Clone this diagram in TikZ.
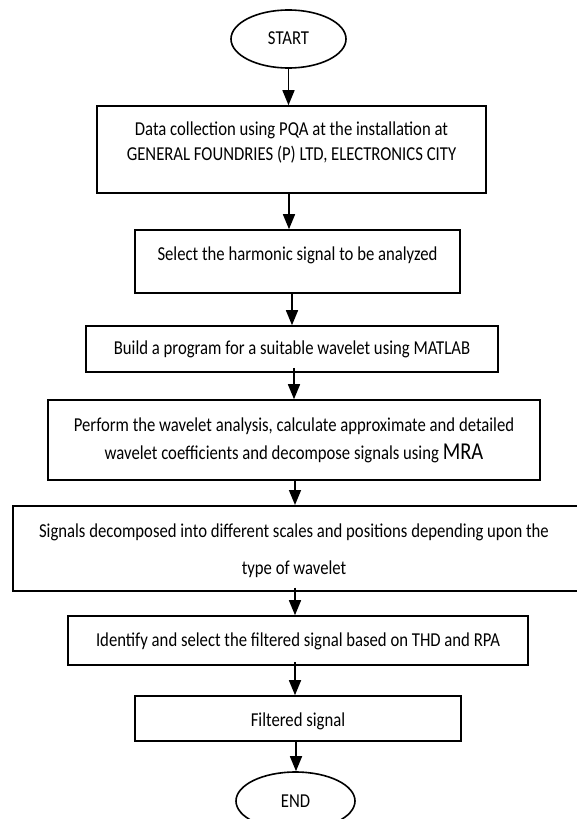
\documentclass[tikz,border=0pt]{standalone}
\usepackage{fontspec}
\usepackage{graphicx}
\setmainfont{Carlito}
\usetikzlibrary{arrows.meta,shapes.geometric}
\newcommand{\stretchtext}[2]{\scalebox{1}[1.18]{\fontsize{16.7}{#1}\selectfont\begin{tabular}{@{}c@{}}#2\end{tabular}}}
\tikzset{
  box/.style={draw, line width=1.6pt, rectangle, inner sep=0pt},
  oval/.style={draw, line width=1.6pt, ellipse, inner sep=0pt},
  txt/.style={align=center, inner sep=0pt},
  arr/.style={line width=1.6pt, -{Triangle[length=15pt,width=12pt]}}
}
\begin{document}
\begin{tikzpicture}[x=1pt,y=1pt]
\clip (0,0) rectangle (577,-819);
\fill[white] (0,0) rectangle (577,-819);
% START
\node[oval, minimum width=115pt, minimum height=58pt] (start) at (288.5,-39) {};
\node[txt] (tstart) at (288.5,-40) {\stretchtext{20}{START}};
% box1
\node[box, minimum width=389pt, minimum height=87pt] (b1) at (291.5,-149.5) {};
\node[txt] (t1) at (291.5,-143) {\stretchtext{21.2}{Data collection using PQA at the installation at\\GENERAL FOUNDRIES (P) LTD, ELECTRONICS CITY}};
% box2
\node[box, minimum width=325pt, minimum height=63pt] (b2) at (297.5,-261.5) {};
\node[txt] (t2) at (297.5,-255.5) {\stretchtext{20}{Select the harmonic signal to be analyzed}};
% box3
\node[box, minimum width=412pt, minimum height=46pt] (b3) at (292,-349) {};
\node[txt] (t3) at (292,-349.5) {\stretchtext{20}{Build a program for a suitable wavelet using MATLAB}};
% box4
\node[box, minimum width=492pt, minimum height=80pt] (b4) at (294,-440) {};
\node[txt] (t4) at (294,-439.5) {\stretchtext{23.7}{Perform the wavelet analysis, calculate approximate and detailed\\wavelet coefficients and decompose signals using {\fontsize{20.5}{23.7}\selectfont MRA}}};
% box5
\node[box, minimum width=600pt, minimum height=85pt, anchor=north west] (b5) at (12,-505) {};
\node[txt] (t5) at (294,-549) {\stretchtext{31.4}{Signals decomposed into different scales and positions depending upon the\\type of wavelet}};
% box6
\node[box, minimum width=460pt, minimum height=49pt] (b6) at (298,-640.5) {};
\node[txt] (t6) at (298,-641.5) {\stretchtext{20}{Identify and select the filtered signal based on THD and RPA}};
% box7
\node[box, minimum width=326pt, minimum height=45pt] (b7) at (298,-718.5) {};
\node[txt] (t7) at (298,-721.5) {\stretchtext{20}{Filtered signal}};
% END
\node[oval, minimum width=119pt, minimum height=58pt] (end) at (295.5,-801) {};
\node[txt] (tend) at (295.5,-802.5) {\stretchtext{20}{END}};
% arrows
\draw[arr] (start.south) -- (start.south |- b1.north);
\draw[arr] ([xshift=0.5pt]start.south |- b1.south) -- ([xshift=0.5pt]start.south |- b2.north);
\draw[arr] (t3.north |- b2.south) -- (t3.north |- b3.north);
\draw[arr] ([yshift=5pt]b4.north |- b3.south) -- (b4.north);
\draw[arr] ([xshift=1pt]b4.south) -- ([xshift=1pt]b4.south |- b5.north);
\draw[arr] ([xshift=1pt,yshift=4pt]b4.south |- b5.south) -- ([xshift=1pt]b4.south |- b6.north);
\draw[arr] ([xshift=-3pt,yshift=4pt]b6.south) -- ([xshift=-3pt]b6.south |- b7.north);
\draw[arr] ([xshift=-2pt]b7.south) -- ([xshift=-2pt]b7.south |- end.north);
\end{tikzpicture}
\end{document}
